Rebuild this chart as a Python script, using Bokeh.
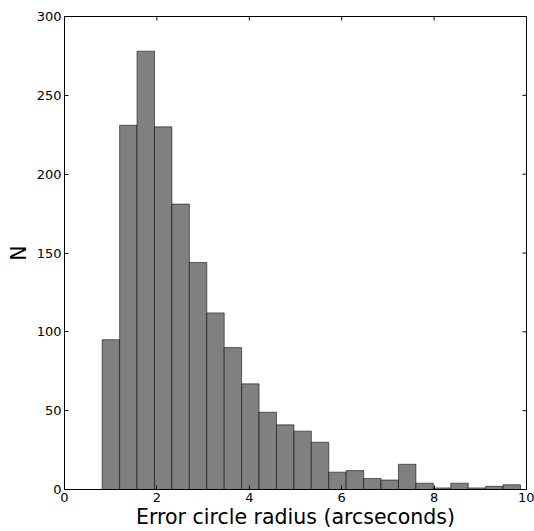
import numpy as np
from bokeh.plotting import figure
from bokeh.models import Range1d, FixedTicker
from bokeh.embed import file_html
from bokeh.resources import INLINE

# Histogram data
bin_lo = 0.816
bin_hi = 9.87
counts = [95, 231, 278, 230, 181, 144, 112, 90, 67, 49, 41, 37,
          30, 11, 12, 7, 6, 16, 4, 1, 4, 1, 2, 3]
x_ticks = [0, 2, 4, 6, 8, 10]
y_ticks = [0, 50, 100, 150, 200, 250, 300]
x_label = "Error circle radius (arcseconds)"
y_label = "N"

edges = np.linspace(bin_lo, bin_hi, len(counts) + 1)
x_max = x_ticks[-1]
y_max = y_ticks[-1]

FONT = "DejaVu Sans"

p = figure(width=534, height=531, output_backend="svg", toolbar_location=None,
           x_range=Range1d(0, x_max), y_range=Range1d(0, y_max),
           min_border_left=64, min_border_right=8, min_border_top=16,
           min_border_bottom=41, background_fill_color="white",
           border_fill_color="white")

p.quad(left=edges[:-1], right=edges[1:], top=counts, bottom=0,
       fill_color="#808080", line_color="black", line_alpha=0.55, line_width=1)

# inward ticks on the top and right spines (half of each dash is clipped by the frame)
p.scatter(x=x_ticks, y=[y_max] * len(x_ticks), marker="dash", angle=np.pi / 2,
          size=8, line_color="black", line_width=1)
p.scatter(x=[x_max] * len(y_ticks), y=y_ticks, marker="dash",
          size=8, line_color="black", line_width=1)

p.xgrid.visible = False
p.ygrid.visible = False
p.outline_line_color = "black"
p.outline_line_width = 1


def style(ax, ticks):
    ax.ticker = FixedTicker(ticks=ticks)
    ax.major_tick_in = 4
    ax.major_tick_out = 0
    ax.minor_tick_line_color = None
    ax.axis_line_color = "black"
    ax.major_tick_line_color = "black"
    ax.major_label_text_font = FONT
    ax.major_label_text_color = "black"
    ax.major_label_text_font_size = "13px"
    ax.axis_label_text_font = FONT
    ax.axis_label_text_font_style = "normal"
    ax.axis_label_text_color = "black"
    ax.axis_label_text_font_size = "20.5px"


style(p.xaxis[0], x_ticks)
p.xaxis[0].axis_label = x_label
p.xaxis[0].major_label_standoff = 3
p.xaxis[0].axis_label_standoff = 0

style(p.yaxis[0], y_ticks)
p.yaxis[0].axis_label = y_label
p.yaxis[0].major_label_standoff = 3
p.yaxis[0].axis_label_standoff = 3

open("out.html", "w").write(file_html(p, INLINE))
